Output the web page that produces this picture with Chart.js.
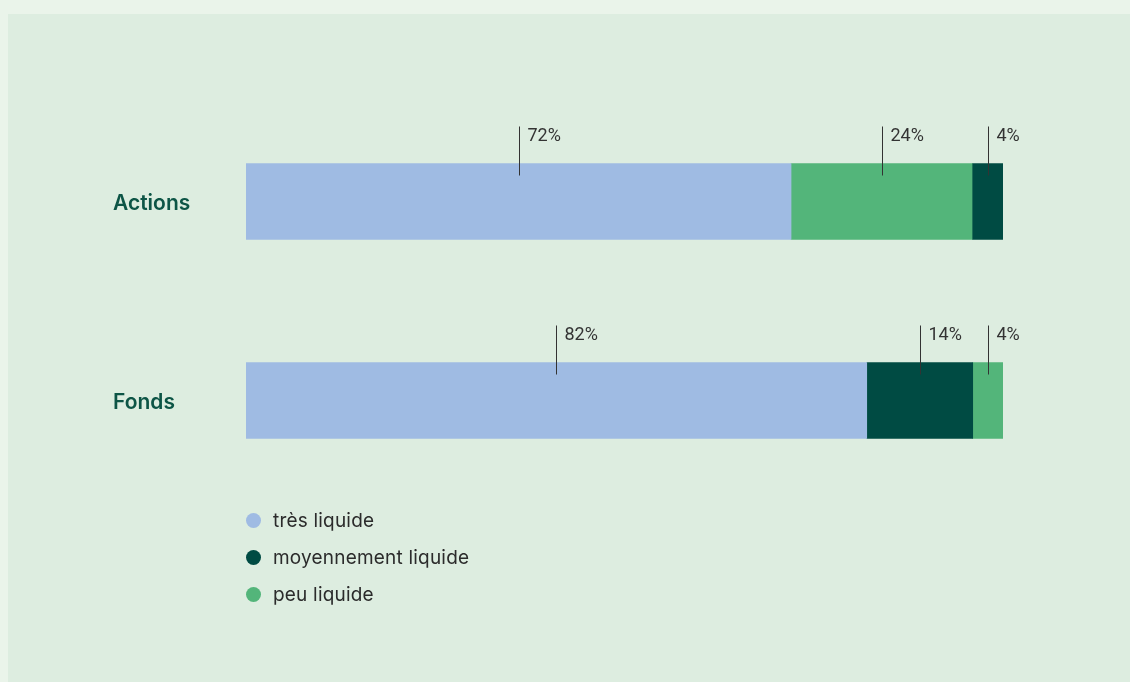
<!DOCTYPE html>
<html>
<head>
<meta charset="utf-8">
<script src="https://cdn.jsdelivr.net/npm/chart.js@4.4.1/dist/chart.umd.min.js"></script>
<style>
  html, body { margin: 0; padding: 0; }
  body { width: 1130px; height: 682px; background: #eaf4ea; position: relative; overflow: hidden; }
  #card { position: absolute; left: 8px; top: 14px; right: 0; bottom: 0; background: #ddede0; }
  #wrap { position: absolute; left: 0; top: 0; width: 1130px; height: 682px; }
  #legend { position: absolute; left: 246px; top: 502px; font-family: Inter, "Noto Sans", sans-serif; font-size: 19px; letter-spacing: 0.2px; color: #2b2b2b; }
  #legend div { height: 37px; display: flex; align-items: center; }
  #legend span.dot { width: 15px; height: 15px; border-radius: 50%; display: inline-block; margin-right: 12px; }
</style>
</head>
<body>
<div id="card"></div>
<div id="wrap"><canvas id="barChart" width="1130" height="682"></canvas></div>
<div id="legend"></div>
<script>
// categories et séries
var categories = ['Actions', 'Fonds'];
var seriesNames = ['très liquide', 'moyennement liquide', 'peu liquide'];
var tresLiquide = [72, 82];
var moyennementLiquide = [4, 14];
var peuLiquide = [24, 4];
// ordre des segments dans chaque barre (index de série)
var stackOrder = [[0, 2, 1], [0, 1, 2]];
var seriesColors = ['#9fbbe3', '#004b43', '#53b57a'];

var seriesValues = [tresLiquide, moyennementLiquide, peuLiquide];

// barres flottantes: [debut, fin] selon l'ordre de chaque ligne
var ranges = seriesValues.map(function () { return []; });
categories.forEach(function (cat, row) {
    var start = 0;
    stackOrder[row].forEach(function (s) {
        var v = seriesValues[s][row];
        ranges[s][row] = [start, start + v];
        start += v;
    });
});

var datasets = seriesNames.map(function (name, s) {
    return {
        label: name,
        data: ranges[s],
        backgroundColor: seriesColors[s],
        borderWidth: 0,
        grouped: false,
        barThickness: 76
    };
});

// etiquettes en % avec petit trait
var pctLabels = {
    id: 'pctLabels',
    afterDatasetsDraw: function (chart) {
        var ctx = chart.ctx;
        ctx.save();
        ctx.strokeStyle = '#333333';
        ctx.lineWidth = 1;
        ctx.fillStyle = '#333333';
        ctx.font = '18px Roboto, "Liberation Sans", sans-serif';
        ctx.textAlign = 'left';
        ctx.textBaseline = 'alphabetic';
        chart.data.datasets.forEach(function (ds, s) {
            var meta = chart.getDatasetMeta(s);
            meta.data.forEach(function (bar, row) {
                var v = seriesValues[s][row];
                if (!v) return;
                var cx = Math.round((bar.x + bar.base) / 2) + 0.5;
                var top = bar.y - bar.height / 2;
                ctx.beginPath();
                ctx.moveTo(cx, top - 37);
                ctx.lineTo(cx, top + 12);
                ctx.stroke();
                ctx.fillText(v + '%', cx + 8, top - 23);
            });
        });
        ctx.restore();
    }
};

var barChartCanvas = document.getElementById('barChart').getContext('2d');

new Chart(barChartCanvas, {
    type: 'bar',
    data: {
        labels: categories,
        datasets: datasets
    },
    options: {
        responsive: false,
        animation: false,
        indexAxis: 'y',
        layout: { padding: { left: 113, right: 127, top: 102, bottom: 182 } },
        plugins: {
            legend: { display: false },
            tooltip: { enabled: false }
        },
        scales: {
            x: { display: false, min: 0, max: 100 },
            y: {
                grid: { display: false },
                border: { display: false },
                afterFit: function (axis) { axis.width = 133; },
                ticks: {
                    crossAlign: 'far',
                    labelOffset: 2,
                    color: '#0d5546',
                    font: { family: 'Inter, "Noto Sans", sans-serif', size: 21, weight: '600' }
                }
            }
        }
    },
    plugins: [pctLabels]
});

// legende verticale
var legend = document.getElementById('legend');
seriesNames.forEach(function (name, s) {
    var row = document.createElement('div');
    row.innerHTML = '<span class="dot" style="background:' + seriesColors[s] + '"></span>' + name;
    legend.appendChild(row);
});
</script>
</body>
</html>
